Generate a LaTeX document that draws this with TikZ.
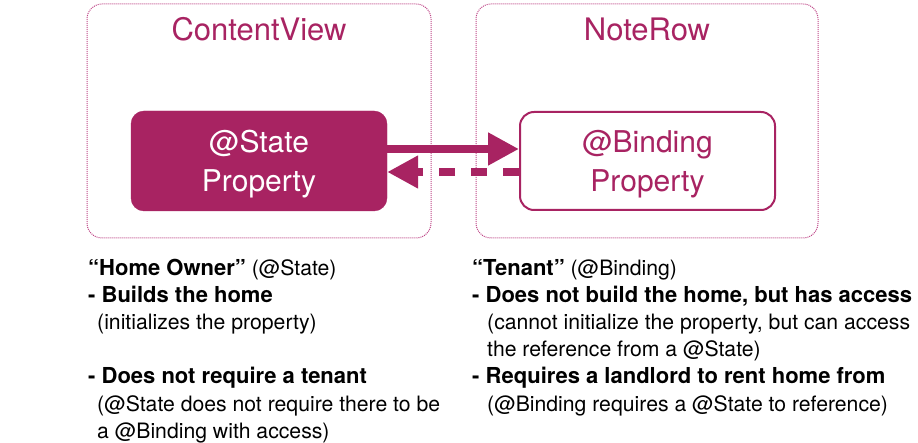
\documentclass[tikz,border=0pt]{standalone}
\usepackage{fontspec}
\setmainfont{TeX Gyre Heros}
\usetikzlibrary{arrows.meta}
\definecolor{plum}{RGB}{168,35,98}
\definecolor{plumlight}{RGB}{190,70,135}
\tikzset{
  viewbox/.style={draw=plumlight, line width=1pt, dash pattern=on 1pt off 1pt, rounded corners=15pt},
  title/.style={anchor=base, text=plum, font=\fontsize{31}{37}\selectfont, inner sep=0pt},
  statebox/.style={fill=plum, draw=plum, rounded corners=13pt, minimum width=256pt, minimum height=100pt, inner sep=0pt},
  bindbox/.style={fill=white, draw=plum, line width=2pt, rounded corners=14pt, minimum width=255pt, minimum height=98pt, inner sep=0pt},
  boxlabel/.style={inner sep=0pt, align=center, font=\fontsize{30}{39.5}\selectfont},
  flow/.style={draw=plum, line width=8pt, -{Triangle[length=31pt 0, width=31pt 0]}},
  backflow/.style={flow, dash pattern=on 16pt off 16pt},
  note/.style={anchor=base west, inner sep=0pt, font=\fontsize{21.2}{27}\selectfont},
  hd/.style={font=\fontsize{22}{27}\selectfont\bfseries}
}
\newcommand{\hdtext}[1]{{\fontsize{22}{27}\selectfont\bfseries #1}}
\begin{document}
\begin{tikzpicture}[x=1pt,y=-1pt]
\useasboundingbox (0,0) rectangle (918,443);
% outer views
\draw[viewbox] (87,4) rectangle (431,238);
\draw[viewbox] (476,4) rectangle (818,238);
\node[title] (cv) at (259,41) {ContentView};
\node[title] (nr) at (647,41) {NoteRow};
% property boxes
\node[statebox] (st) at (259,161) {};
\node[bindbox] (bd) at (647.5,161) {};
\node[boxlabel, text=white] (stl) at ([yshift=-3pt]st.center) {@State\\Property};
\node[boxlabel, text=plum] (bdl) at ([yshift=-3pt]bd.center) {@Binding\\Property};
% arrows
\coordinate (ya) at (0,149);
\coordinate (yb) at (0,172);
\draw[flow] (st.east |- ya) -- (bd.west |- ya);
\draw[backflow] (bd.west |- yb) -- (st.east |- yb);
% left notes
\node[note] (l1) at (88,276) {\hdtext{“Home Owner”} (@State)};
\node[note] (l2) at (88,303) {\hdtext{- Builds the home}};
\node[note] (l3) at (97,330) {(initializes the property)};
\node[note] (l4) at (88,384) {\hdtext{- Does not require a tenant}};
\node[note] (l5) at (97,411) {(@State does not require there to be};
\node[note] (l6) at (97,438) {a @Binding with access)};
% right notes
\node[note] (r1) at (472,276) {\hdtext{“Tenant”} (@Binding)};
\node[note] (r2) at (472,303) {\hdtext{- Does not build the home, but has access}};
\node[note] (r3) at (487,330) {(cannot initialize the property, but can access};
\node[note] (r4) at (487,357) {the reference from a @State)};
\node[note] (r5) at (472,384) {\hdtext{- Requires a landlord to rent home from}};
\node[note] (r6) at (487,411) {(@Binding requires a @State to reference)};
\end{tikzpicture}
\end{document}
